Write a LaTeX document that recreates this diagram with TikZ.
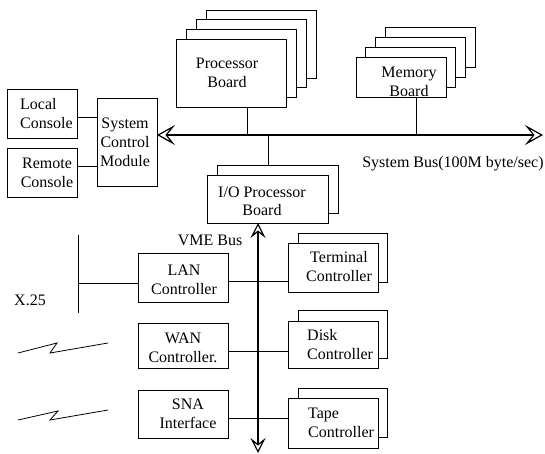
\documentclass[tikz,border=0pt]{standalone}
\usepackage{fontspec}
\setmainfont{Liberation Serif}
\usetikzlibrary{arrows.meta}
\tikzset{
  box/.style={draw, line width=0.8pt, fill=white, inner sep=0pt, outer sep=0pt},
  txt/.style={font=\fontsize{16}{19}\selectfont, align=center, inner sep=0pt},
  txtl/.style={font=\fontsize{16}{19}\selectfont, align=left, inner sep=0pt},
  conn/.style={line width=0.8pt},
  sysbus/.style={line width=1.6pt, {Stealth[open,length=18pt,width=20pt,inset=8pt,line width=1.2pt]}-{Stealth[open,length=18pt,width=20pt,inset=8pt,line width=1.2pt]}},
  vmebus/.style={line width=1.6pt, {Stealth[open,length=15pt,width=15pt,inset=6pt,line width=1.2pt]}-{Stealth[open,length=15pt,width=15pt,inset=6pt,line width=1.2pt]}}
}
\begin{document}
\begin{tikzpicture}[x=1pt,y=-1pt]
\useasboundingbox (0,0) rectangle (545,454);

% Consoles and system control module
\node[box, minimum width=70pt, minimum height=49pt] (local) at (42,113.5) {};
\node[box, minimum width=70pt, minimum height=49pt] (remote) at (42,172.5) {};
\node[box, minimum width=60pt, minimum height=88pt] (scm) at (127,142) {};
\node[txtl, anchor=west] (localt) at (20,113.5) {Local\\Console};
\node[txt] (remotet) at (47,172.5) {Remote\\Console};
\node[txt] (scmt) at (125,142.5) {System\\Control\\Module};

% Processor board stack
\node[box, minimum width=110pt, minimum height=68pt] (proc3) at (261,44) {};
\node[box, minimum width=110pt, minimum height=68pt] (proc2) at (251,53.5) {};
\node[box, minimum width=110pt, minimum height=68pt] (proc1) at (241,63) {};
\node[box, minimum width=110pt, minimum height=68pt] (proc) at (231,73) {};
\node[txt] (proct) at (227,72.5) {Processor\\Board};

% Memory board stack
\node[box, minimum width=90pt, minimum height=40pt] (mem3) at (430,47) {};
\node[box, minimum width=90pt, minimum height=40pt] (mem2) at (420,57.5) {};
\node[box, minimum width=90pt, minimum height=40pt] (mem1) at (410.5,67.5) {};
\node[box, minimum width=90pt, minimum height=40pt] (mem) at (401,77) {};
\node[txt] (memt) at (409,81.5) {Memory\\Board};

% I/O processor board
\node[box, minimum width=121pt, minimum height=48pt] (io1) at (277.5,189) {};
\node[box, minimum width=121pt, minimum height=48pt] (io) at (267.5,199) {};
\node[txt, font=\fontsize{16}{18}\selectfont] (iot) at (262,201) {I/O Processor\\Board};

% Controllers on the left
\node[box, minimum width=90pt, minimum height=49pt] (lan) at (183,277.5) {};
\node[box, minimum width=90pt, minimum height=45pt] (wan) at (183,345.5) {};
\node[box, minimum width=90pt, minimum height=48pt] (sna) at (183,414) {};
\node[txt] (lant) at (184,279.5) {LAN\\Controller};
\node[txt] (want) at (183,347.5) {WAN\\Controller.};
\node[txt] (snat) at (188,414) {SNA\\Interface};

% Controllers on the right
\node[box, minimum width=89pt, minimum height=49pt] (term1) at (342.5,257.5) {};
\node[box, minimum width=90pt, minimum height=49pt] (term) at (333,267.5) {};
\node[box, minimum width=89pt, minimum height=48pt] (disk1) at (342.5,334) {};
\node[box, minimum width=90pt, minimum height=47pt] (disk) at (333,344.5) {};
\node[box, minimum width=89pt, minimum height=49pt] (tape1) at (342.5,412.5) {};
\node[box, minimum width=90pt, minimum height=50pt] (tape) at (333,423) {};
\node[txt] (termt) at (339,267) {Terminal\\Controller};
\node[txtl, anchor=west] (diskt) at (307,345) {Disk\\Controller};
\node[txtl, anchor=west] (tapet) at (308,422.5) {Tape\\Controller};

% Labels
\node[txt] (sysbust) at (453,164) {System Bus(100M byte/sec)};
\node[txt] (vmet) at (210,240) {VME Bus};
\node[txt] (x25t) at (30,300) {X.25};

% System bus
\coordinate (busR) at (543,135);
\coordinate (pb) at (247,135);
\coordinate (mb) at (416,135);
\coordinate (ib) at (268,135);
\draw[sysbus] (scm.east |- busR) -- (busR);
\draw[conn] (proc.south -| pb) -- (pb);
\draw[conn] (mem.south -| mb) -- (mb);
\draw[conn] (ib) -- (io1.north -| ib);

% Console links
\draw[conn] (local.east |- 0,117) -- (scm.west |- 0,117);
\draw[conn] (remote.east |- 0,166) -- (scm.west |- 0,166);

% VME bus
\coordinate (vmeB) at (258,453);
\draw[vmebus] (io.south -| vmeB) -- (vmeB);

\draw[conn] (lan.east |- 0,281) -- (term.west |- 0,281);
\draw[conn] (wan.east |- 0,351) -- (disk.west |- 0,351);
\draw[conn] (sna.east |- 0,418) -- (tape.west |- 0,418);

% X.25 line
\coordinate (xt) at (78,235);
\coordinate (xb) at (78,313);
\draw[conn] (xt) -- (xb);
\draw[conn] (lan.west |- 0,283) -- (xt |- 0,283);

% Zigzag links
\draw[conn] (18,353) -- (57,343) -- (50,353) -- (108,343);
\draw[conn] (18,420) -- (58,411) -- (50,420) -- (108,410);
\end{tikzpicture}
\end{document}
